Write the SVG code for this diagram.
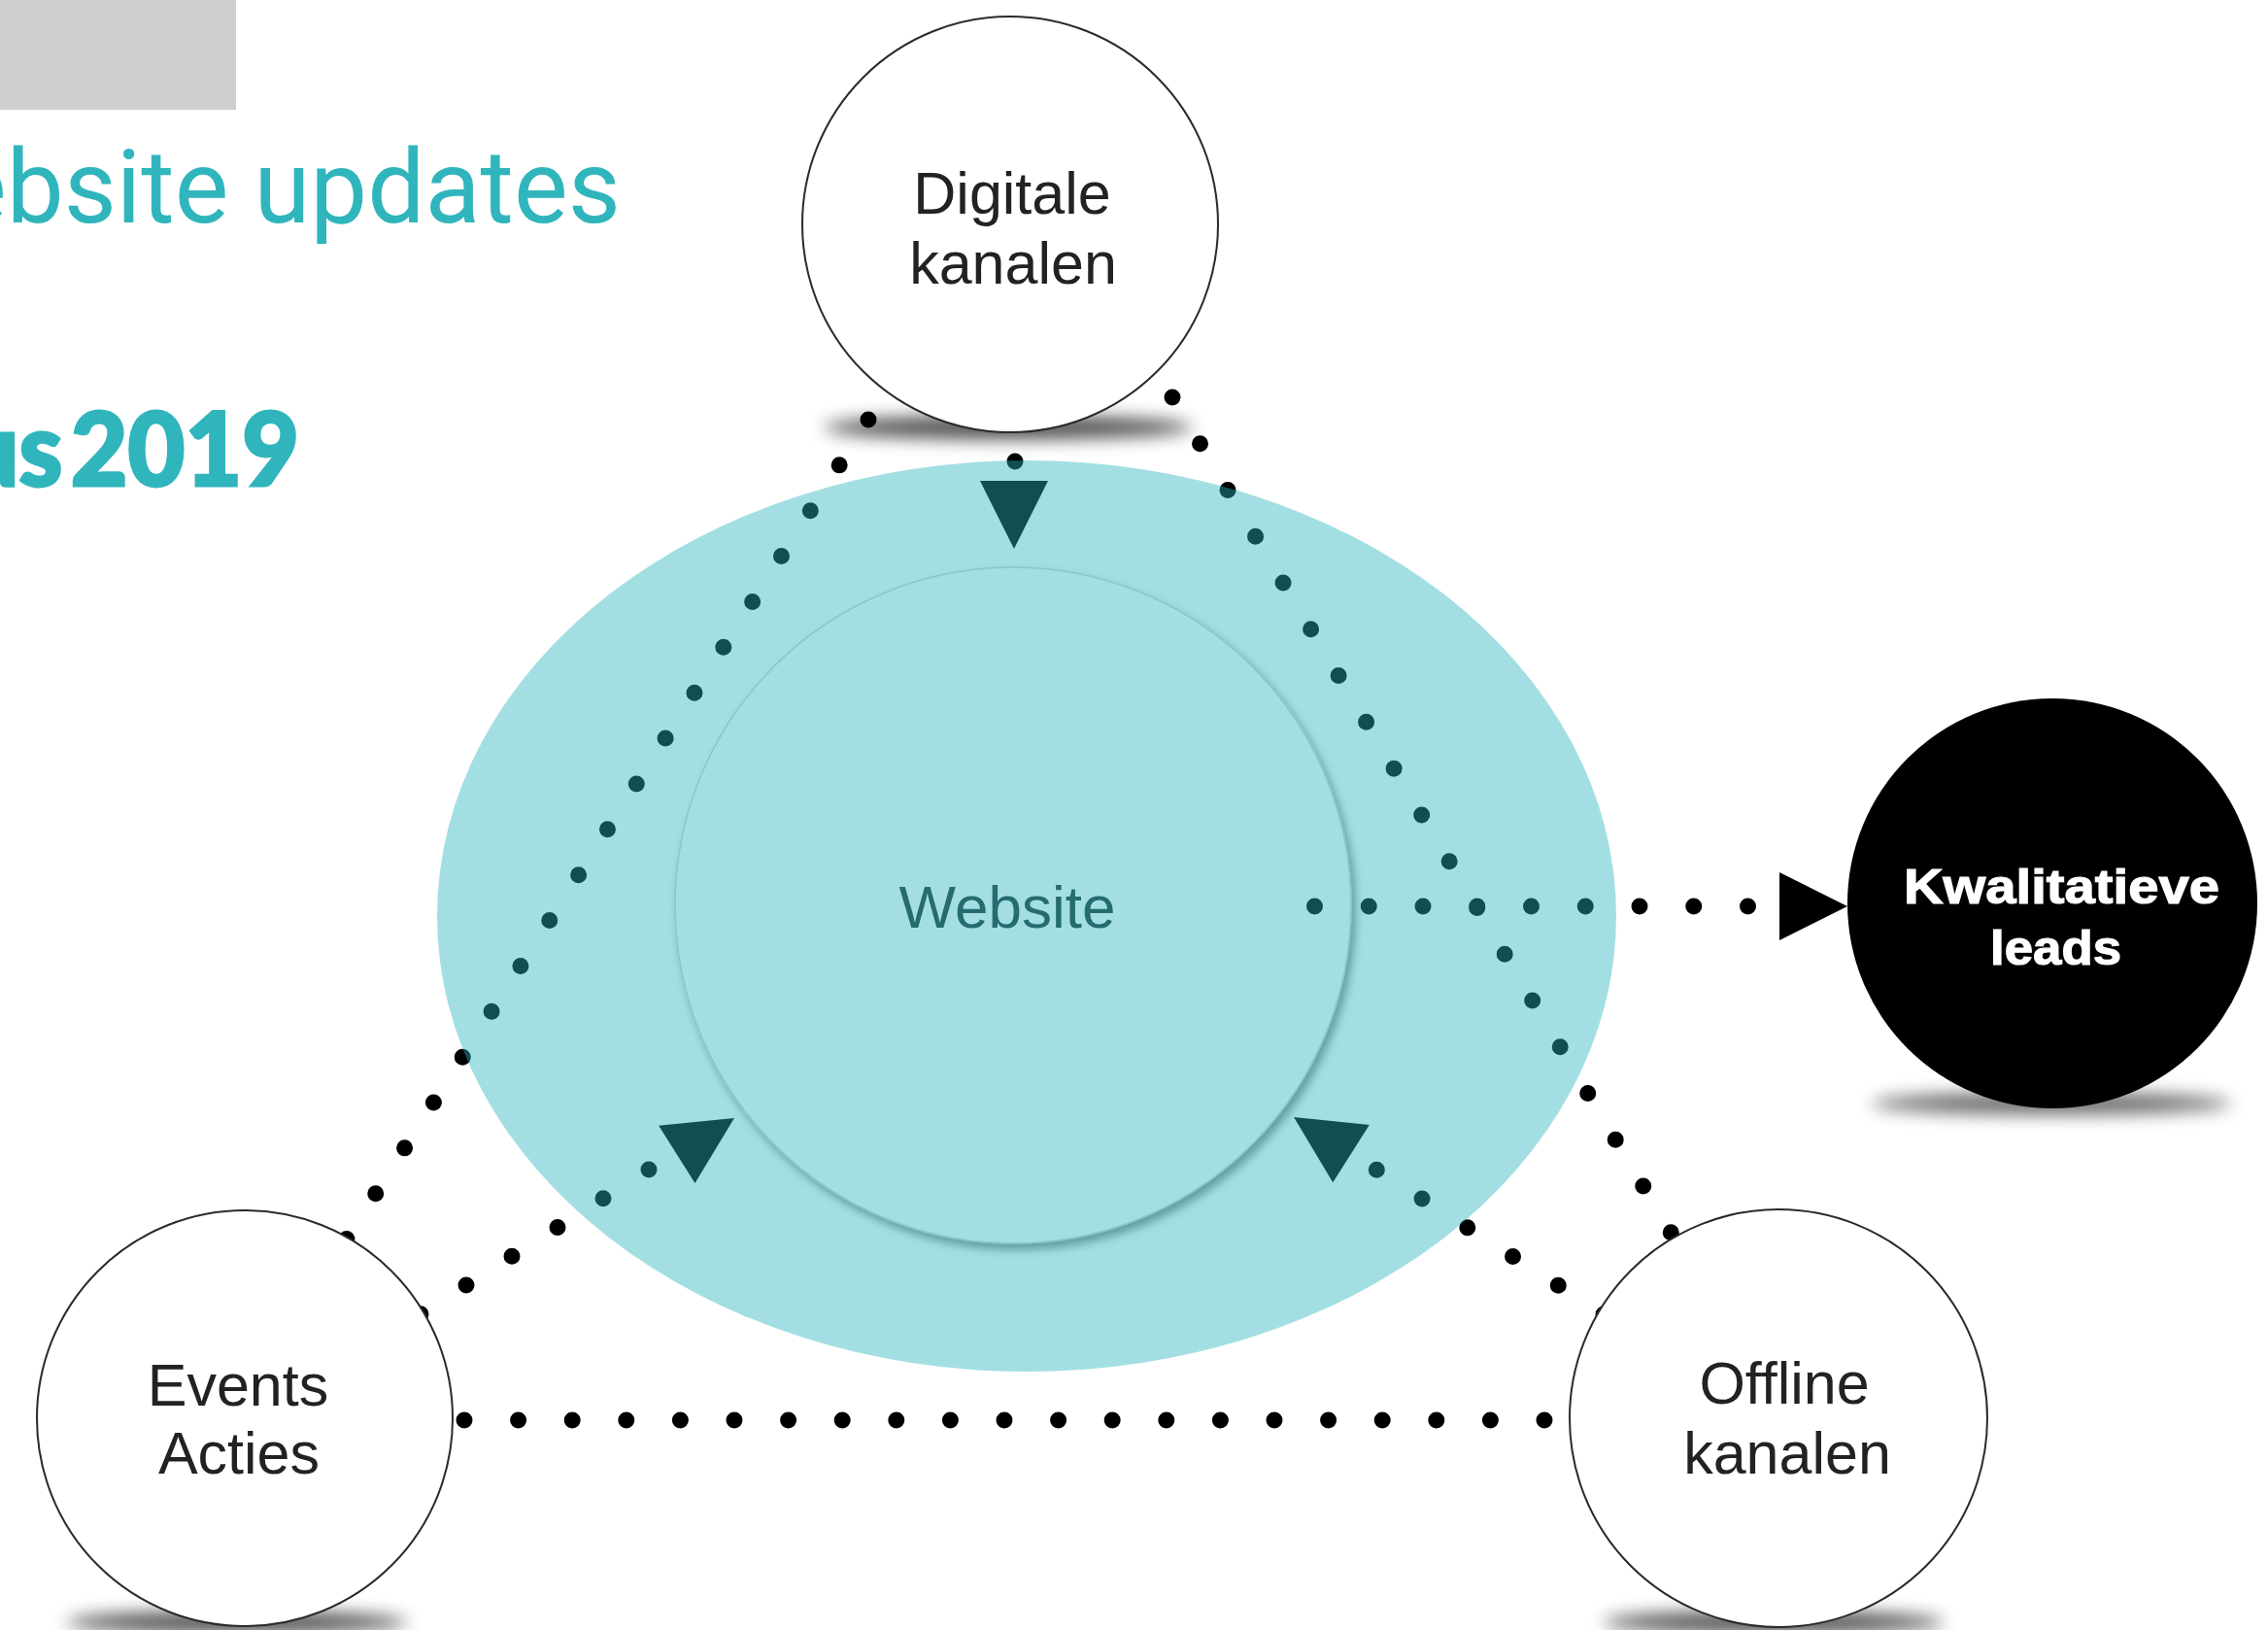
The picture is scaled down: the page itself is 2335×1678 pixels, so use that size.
<svg xmlns="http://www.w3.org/2000/svg" width="2335" height="1678" viewBox="0 0 2335 1678">
<defs>
<style>
.node-circle{fill:#fff;stroke:#2a2a2a;stroke-width:2}
.label{font-family:"Liberation Sans",Arial,sans-serif;font-size:61px;fill:#222;text-anchor:middle}
.label-bold{font-family:"Liberation Sans",Arial,sans-serif;font-weight:bold;font-size:50px;fill:#fff;stroke:#fff;stroke-width:1.2}
.dots{fill:none;stroke:#000;stroke-width:17;stroke-linecap:round}
.arrow{fill:#000}
.shadow{fill:#000;filter:url(#blur)}
.title{fill:#30b5bc}
</style>
<filter id="blur" x="-30%" y="-400%" width="160%" height="900%"><feGaussianBlur stdDeviation="9"/></filter>
<filter id="drop" x="-10%" y="-10%" width="120%" height="120%"><feDropShadow dx="4" dy="6" stdDeviation="5" flood-color="#000" flood-opacity="0.45"/></filter>
<path id="arrowhead" d="M0,0 L-70,-35 L-70,35 Z"/>
</defs>
<rect x="0" y="0" width="2335" height="1678" fill="#fff"/>

<g id="header">
<rect x="0" y="0" width="243" height="113" fill="#cfcfcf"/>
<text class="title" x="-49" y="229" font-family="Roboto, 'Liberation Sans', sans-serif" font-size="105">ebsite updates</text>
<text class="title" x="-38" y="500" font-family="Lato, 'Liberation Sans', sans-serif" font-weight="900" font-size="104" word-spacing="-16" stroke="#30b5bc" stroke-width="3" textLength="346" lengthAdjust="spacingAndGlyphs">us 2019</text>
</g>

<g id="shadows">
<ellipse class="shadow" cx="1038" cy="440" rx="190" ry="12" opacity="0.7"/>
<ellipse class="shadow" cx="244" cy="1670" rx="175" ry="11" opacity="0.7"/>
<ellipse class="shadow" cx="1826" cy="1670" rx="175" ry="11" opacity="0.7"/>
<ellipse class="shadow" cx="2112" cy="1136" rx="185" ry="11" opacity="0.6"/>
</g>

<g id="website-circle">
<circle cx="1043" cy="932" r="348" fill="#fff" stroke="#d4d4d4" stroke-width="1.5" filter="url(#drop)"/>
</g>

<g id="connectors">
<path class="dots" d="M894,432 L356,1277" stroke-dasharray="0 55.56"/>
<path class="dots" d="M1207,409 L1721,1270" stroke-dasharray="0 55.63"/>
<path class="dots" d="M1045,363.5 L1045,476" stroke-dasharray="0 55.75"/>
<path class="dots" d="M433,1352.75 L669,1203.4" stroke-dasharray="0 55.62"/>
<path class="dots" d="M1651,1353 L1416.3,1203.5" stroke-dasharray="0 55.41"/>
<path class="dots" d="M1353.5,933 L1800,933" stroke-dasharray="0 55.75"/>
<path class="dots" d="M478,1462 L1591,1462" stroke-dasharray="0 55.6"/>
<use class="arrow" href="#arrowhead" transform="translate(1044,565) rotate(90)"/>
<use class="arrow" href="#arrowhead" transform="translate(1902,933)"/>
<use class="arrow" href="#arrowhead" transform="translate(756,1151) rotate(-32.3)"/>
<use class="arrow" href="#arrowhead" transform="translate(1332,1150) rotate(-147.5)"/>
</g>

<g id="digitale-kanalen">
<circle class="node-circle" cx="1040" cy="231" r="214"/>
<text class="label" x="1042" y="220">Digitale</text>
<text class="label" x="1043" y="292">kanalen</text>
</g>

<g id="events-acties">
<circle class="node-circle" cx="252" cy="1460" r="214"/>
<text class="label" x="245" y="1447">Events</text>
<text class="label" x="246" y="1517">Acties</text>
</g>

<g id="offline-kanalen">
<circle class="node-circle" cx="1831" cy="1460" r="215"/>
<text class="label" x="1837" y="1445">Offline</text>
<text class="label" x="1840" y="1517">kanalen</text>
</g>

<g id="kwalitatieve-leads">
<circle cx="2113" cy="930" r="211" fill="#000"/>
<text class="label-bold" x="1960" y="930" textLength="325" lengthAdjust="spacingAndGlyphs">Kwalitatieve</text>
<text class="label-bold" x="2049" y="993" textLength="135" lengthAdjust="spacingAndGlyphs">leads</text>
</g>

<g id="website">
<ellipse cx="1057" cy="943" rx="607" ry="469" fill="#2ab5bc" opacity="0.43"/>
<text x="1037" y="955" font-family="'Liberation Sans', Arial, sans-serif" font-size="62" fill="#256b70" text-anchor="middle">Website</text>
</g>
</svg>
